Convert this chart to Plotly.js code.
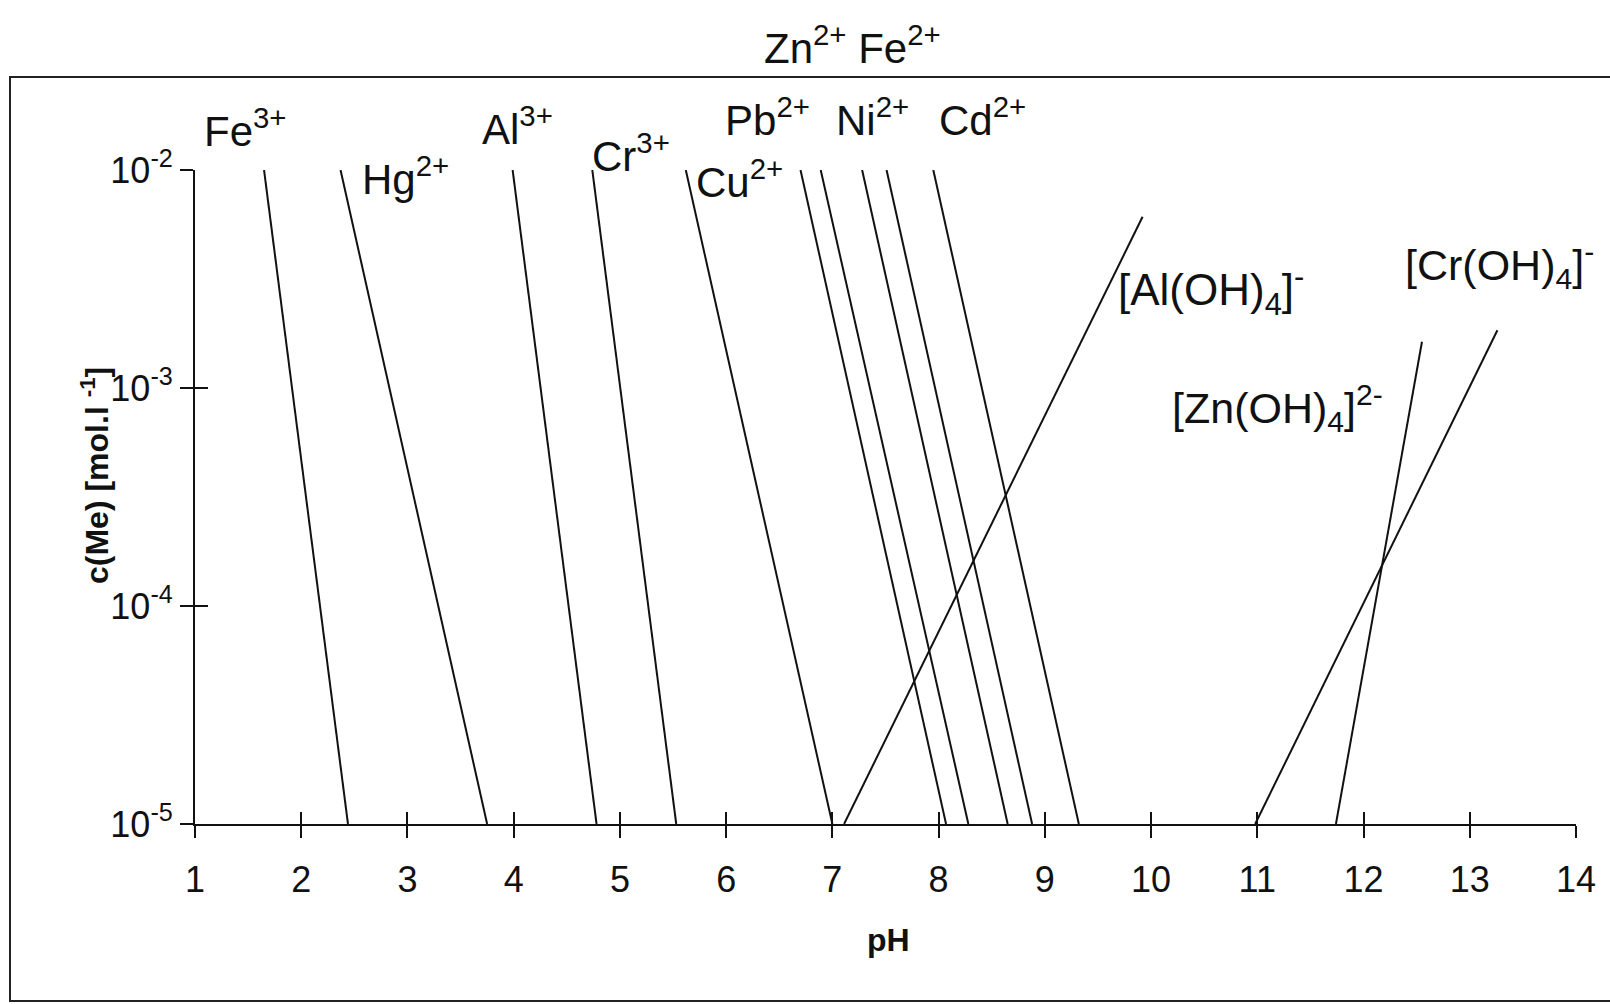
<!DOCTYPE html>
<html>
<head>
<meta charset="utf-8">
<script src="https://cdn.plot.ly/plotly-3.0.1.min.js"></script>
<style>html,body{margin:0;padding:0;background:#fff;}#chart{width:1610px;height:1004px;}</style>
</head>
<body>
<div id="chart"></div>
<script>
// ---- data ----
const ions      = ['Fe3+','Hg2+','Al3+','Cr3+','Cu2+','Pb2+','Zn2+','Ni2+','Fe2+','Cd2+'];
const ionPHTop  = [1.65, 2.37, 3.99, 4.74, 5.62, 6.70, 6.89, 7.28, 7.51, 7.95];
const ionPHBot  = [2.44, 3.75, 4.78, 5.53, 7.00, 8.07, 8.28, 8.65, 8.88, 9.32];
const ionCTop   = [1e-2, 1e-2, 1e-2, 1e-2, 1e-2, 1e-2, 1e-2, 1e-2, 1e-2, 1e-2];
const ionCBot   = [1e-5, 1e-5, 1e-5, 1e-5, 1e-5, 1e-5, 1e-5, 1e-5, 1e-5, 1e-5];

const complexes   = ['[Al(OH)4]-', '[Zn(OH)4]2-', '[Cr(OH)4]-'];
const cplxPHLow   = [7.11, 11.74, 10.98];
const cplxPHHigh  = [9.92, 12.55, 13.26];
const cplxCLow    = [1e-5, 1e-5, 1e-5];
const cplxCHigh   = [6.1e-3, 1.63e-3, 1.84e-3];

const xTickVals = [1,2,3,4,5,6,7,8,9,10,11,12,13,14];
const xTickText = ['1','2','3','4','5','6','7','8','9','10','11','12','13','14'];
const yTickVals = [1e-5, 1e-4, 1e-3, 1e-2];
const yTickText = ['10<sup>-5</sup>','10<sup>-4</sup>','10<sup>-3</sup>','10<sup>-2</sup>'];

// ---- layout geometry ----
const W = 1610, H = 1004;
const M = {l:195, r:34, t:170, b:180};
const XR = [1, 14], YR = [-5, -2];
const pw = W - M.l - M.r, ph = H - M.t - M.b;
const px2paper = px => (px - M.l) / pw;
const py2paper = py => (H - M.b - py) / ph;

const FONT = 'Liberation Sans, Arial, Helvetica, sans-serif';
const INK = '#111';

const traces = [];
ions.forEach((name, i) => {
  traces.push({type:'scatter', mode:'lines', name:name,
    x:[ionPHTop[i], ionPHBot[i]], y:[ionCTop[i], ionCBot[i]],
    line:{color:INK, width:2}, showlegend:false, hoverinfo:'name'});
});
complexes.forEach((name, i) => {
  traces.push({type:'scatter', mode:'lines', name:name,
    x:[cplxPHLow[i], cplxPHHigh[i]], y:[cplxCLow[i], cplxCHigh[i]],
    line:{color:INK, width:2}, showlegend:false, hoverinfo:'name'});
});
// invisible trace for the overlay axes (crossing tick marks)
traces.push({type:'scatter', mode:'lines', x:[1,14], y:[1e-5,1e-5], xaxis:'x2', yaxis:'y2',
  line:{color:'rgba(0,0,0,0)', width:0}, showlegend:false, hoverinfo:'skip'});

// labels: [html text, left px, baseline px, font size]
const labels = [
  ['Fe<sup>3+</sup>', 205, 147, 42],
  ['Hg<sup>2+</sup>', 363, 195, 42],
  ['Al<sup>3+</sup>', 483, 145, 42],
  ['Cr<sup>3+</sup>', 593, 172, 42],
  ['Cu<sup>2+</sup>', 697, 198, 42],
  ['Pb<sup>2+</sup>', 726, 136, 42],
  ['Ni<sup>2+</sup>', 837, 136, 42],
  ['Cd<sup>2+</sup>', 940, 136, 42],
  ['Zn<sup>2+</sup> Fe<sup>2+</sup>', 765, 64, 42],
  ['[Al(OH)<sub>4</sub>]<sup>-</sup>', 1119, 314, 44],
  ['[Zn(OH)<sub>4</sub>]<sup>2-</sup>', 1173, 430, 43],
  ['[Cr(OH)<sub>4</sub>]<sup>-</sup>', 1406, 287, 43]
];
const annotations = labels.map(([t, lx, by, fs]) => ({
  text:t, xref:'paper', yref:'paper', x:px2paper(lx - 3), y:py2paper(by + 0.21*fs + 1),
  xanchor:'left', yanchor:'bottom', showarrow:false,
  font:{family:FONT, size:fs, color:INK}
}));
annotations.push({text:'c(Me) [mol.l <sup>-1</sup>]', xref:'paper', yref:'paper',
  x:px2paper(95), y:py2paper(476), xanchor:'center', yanchor:'middle', textangle:-90,
  showarrow:false, font:{family:FONT, size:32, color:INK, weight:'bold'}});
annotations.push({text:'<b>pH</b>', xref:'paper', yref:'paper',
  x:px2paper(888), y:py2paper(940), xanchor:'center', yanchor:'middle',
  showarrow:false, font:{family:FONT, size:32, color:INK}});

const axBase = {showgrid:false, zeroline:false, showline:true, linecolor:INK, linewidth:2,
  tickcolor:INK, tickwidth:2, ticklen:12, tickfont:{family:FONT, size:36, color:INK}, fixedrange:true};

const layout = {
  width:W, height:H, autosize:false,
  margin:{l:M.l, r:M.r, t:M.t, b:M.b, pad:0},
  paper_bgcolor:'#fff', plot_bgcolor:'rgba(0,0,0,0)',
  showlegend:false,
  xaxis:Object.assign({}, axBase, {range:XR, tickmode:'array', tickvals:xTickVals, ticktext:xTickText,
    ticks:'outside', ticklabelstandoff:11, anchor:'y'}),
  yaxis:Object.assign({}, axBase, {type:'log', range:YR, tickmode:'array', tickvals:yTickVals, ticktext:yTickText,
    ticks:'outside', ticklen:13, anchor:'x'}),
  xaxis2:Object.assign({}, axBase, {range:XR, overlaying:'x', anchor:'y2', side:'bottom', tickmode:'array',
    tickvals:xTickVals, ticks:'inside', showticklabels:false}),
  yaxis2:Object.assign({}, axBase, {type:'log', range:YR, overlaying:'y', anchor:'x2', side:'left', tickmode:'array',
    tickvals:yTickVals, ticks:'inside', ticklen:13, showticklabels:false}),
  annotations:annotations,
  shapes:[{type:'rect', xref:'paper', yref:'paper', layer:'below',
    x0:px2paper(10), x1:px2paper(1625), y0:py2paper(1001), y1:py2paper(77),
    line:{color:'#222', width:2}, fillcolor:'rgba(0,0,0,0)'}]
};

Plotly.newPlot('chart', traces, layout, {displayModeBar:false, staticPlot:true});
</script>
</body>
</html>
